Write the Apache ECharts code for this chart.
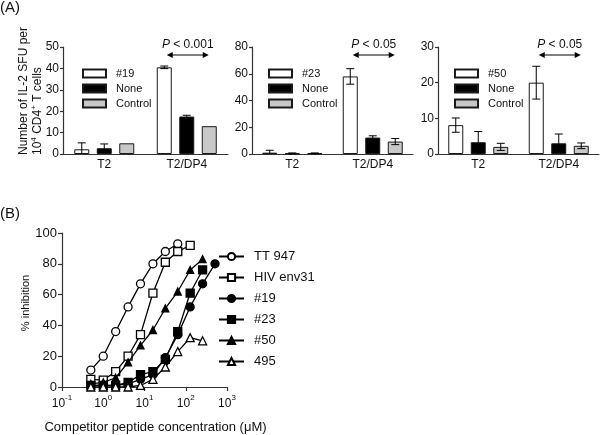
<!DOCTYPE html>
<html><head><meta charset="utf-8">
<script src="https://cdn.jsdelivr.net/npm/echarts@6/dist/echarts.min.js"></script>
<style>html,body{margin:0;padding:0;background:#fff}#c{width:600px;height:435px}</style>
</head><body><div id="c"></div>
<script>
// ---------------- data ----------------
const barCategories = ['T2', 'T2/DP4'];
const groupNames = ['None', 'Control'];

const p1Peptide = '#19';
const p1Means = [[2.2, 40.5], [2.7, 17.5], [5.0, 13.0]];
const p1Errs  = [[3.0, 0.6], [2.0, 0.6], [0, 0]];
const p1YMax = 50, p1YStep = 10, p1P = '< 0.001';

const p2Peptide = '#23';
const p2Means = [[1.0, 58.0], [0.5, 12.3], [0.5, 9.3]];
const p2Errs  = [[1.8, 5.8], [0.3, 1.3], [0.3, 2.3]];
const p2YMax = 80, p2YStep = 20, p2P = '< 0.05';

const p3Peptide = '#50';
const p3Means = [[8.1, 20.0], [3.3, 3.0], [2.0, 2.3]];
const p3Errs  = [[2.0, 4.6], [3.0, 2.6], [1.0, 0.8]];
const p3YMax = 30, p3YStep = 10, p3P = '< 0.05';

// competitor peptide concentration (µM)
const conc = [0.5, 1, 2, 4, 8, 16, 32, 64, 128, 256, 512];
const lineNames = ['TT 947', 'HIV env31', '#19', '#23', '#50', '495'];
const tt947   = [11, 20, 36, 52, 67, 80, 88, 93];
const hivEnv31 = [5, 4.5, 10, 20, 34, 61, 81, 88, 92];
const pep19   = [1, 1, 1, 2, 5, 8, 19, 34, 52, 67, 80];
const pep23   = [1, 1, 1, 3, 8, 10, 18, 36, 61, 76];
const pep50   = [2, 3, 6, 16, 27, 37, 51, 62, 76, 83];
const pep495  = [0, 0, 0, 0, 1, 5, 13, 23, 32, 30];
const lineYTicks = [0, 100, 20];

// ---------------- style ----------------
const FONT = '"Liberation Sans", Arial, Helvetica, sans-serif';
const TXT = '#111';
const AX = '#333';
const BW = 15, BGAP = 0.5, PITCH = BW * (1 + BGAP);
const fills = ['#ffffff', '#000000', '#c8c8c8'];

const chart = echarts.init(document.getElementById('c'), null, {renderer: 'canvas'});

const grids = [
  {left: 63, top: 47, width: 165, height: 107},
  {left: 252, top: 47, width: 161, height: 107},
  {left: 438, top: 47, width: 161, height: 107},
  {left: 62, top: 233, width: 165, height: 154}
];
const xAxes = [], yAxes = [], series = [], legends = [];

const panels = [
  {pep: p1Peptide, means: p1Means, errs: p1Errs, ymax: p1YMax, step: p1YStep, p: p1P, leg: 77},
  {pep: p2Peptide, means: p2Means, errs: p2Errs, ymax: p2YMax, step: p2YStep, p: p2P, leg: 263},
  {pep: p3Peptide, means: p3Means, errs: p3Errs, ymax: p3YMax, step: p3YStep, p: p3P, leg: 449}
];

panels.forEach((pn, i) => {
  xAxes.push({
    gridIndex: i, type: 'category', data: barCategories,
    axisLine: {lineStyle: {color: AX, width: 1.2}}, axisTick: {show: false},
    axisLabel: {color: TXT, fontSize: 12, fontFamily: FONT, margin: 5}
  });
  yAxes.push({
    gridIndex: i, type: 'value', min: 0, max: pn.ymax, interval: pn.step,
    splitLine: {show: false},
    axisLine: {show: true, onZero: false, lineStyle: {color: AX, width: 1.2}},
    axisTick: {show: true, length: 3, lineStyle: {color: AX, width: 1.2}},
    axisLabel: {color: TXT, fontSize: 12, fontFamily: FONT, margin: 4}
  });
  const names = [pn.pep].concat(groupNames);
  const keys = names.map(n => 'P' + i + '|' + n);
  names.forEach((n, s) => {
    series.push({
      type: 'bar', name: keys[s], xAxisIndex: i, yAxisIndex: i,
      data: pn.means[s], barWidth: BW, barGap: (BGAP * 100) + '%',
      itemStyle: {color: fills[s], borderColor: '#1a1a1a', borderWidth: 1},
      animation: false, z: 2
    });
  });
  // error bars
  const errData = [];
  pn.means.forEach((arr, s) => arr.forEach((m, c) => errData.push([c, m, pn.errs[s][c], s])));
  series.push({
    type: 'custom', xAxisIndex: i, yAxisIndex: i, data: errData, z: 5, animation: false, silent: true,
    renderItem: function (params, api) {
      const c = api.value(0), m = api.value(1), e = api.value(2), s = api.value(3);
      if (!e) return;
      const p = api.coord([c, m]);
      const x = p[0] + (s - 1) * PITCH;
      const yHi = api.coord([c, m + e])[1];
      const lo = m - e;
      const yLo = api.coord([c, Math.max(lo, 0)])[1];
      const st = {stroke: '#000', lineWidth: 1};
      const ch = [
        {type: 'line', shape: {x1: x, y1: yLo, x2: x, y2: yHi}, style: st},
        {type: 'line', shape: {x1: x - 4, y1: yHi, x2: x + 4, y2: yHi}, style: st}
      ];
      if (lo > 0) ch.push({type: 'line', shape: {x1: x - 4, y1: yLo, x2: x + 4, y2: yLo}, style: st});
      return {type: 'group', children: ch};
    }
  });
  // significance arrow
  series.push({
    type: 'custom', xAxisIndex: i, yAxisIndex: i, data: [[1, pn.ymax]], z: 6, clip: false,
    animation: false, silent: true,
    renderItem: function (params, api) {
      const c = api.coord([api.value(0), api.value(1)]);
      const cx = c[0] + 1, top = c[1];
      const ya = top + 8, half = 21;
      return {type: 'group', children: [
        {type: 'line', shape: {x1: cx - half + 4, y1: ya, x2: cx + half - 4, y2: ya}, style: {stroke: '#000', lineWidth: 1.2}},
        {type: 'polygon', shape: {points: [[cx - half, ya], [cx - half + 6, ya - 3], [cx - half + 6, ya + 3]]}, style: {fill: '#000'}},
        {type: 'polygon', shape: {points: [[cx + half, ya], [cx + half - 6, ya - 3], [cx + half - 6, ya + 3]]}, style: {fill: '#000'}},
        {type: 'text', style: {text: '{i|P} ' + pn.p, x: cx, y: top - 2, align: 'center', verticalAlign: 'middle',
          fontSize: 12, fontFamily: FONT, fill: TXT,
          rich: {i: {fontStyle: 'italic', fontSize: 12, fontFamily: FONT, fill: TXT}}}}
      ]};
    }
  });
  legends.push({
    orient: 'vertical', left: pn.leg, top: 62, data: keys,
    icon: 'rect', itemWidth: 23, itemHeight: 8, itemGap: 2,
    formatter: n => n.split('|')[1],
    textStyle: {color: TXT, fontSize: 11, fontFamily: FONT, lineHeight: 13, padding: [0, 0, 0, 5]},
    selectedMode: false
  });
});

// line chart axes
xAxes.push({
  gridIndex: 3, type: 'log', logBase: 10, min: 0.1, max: 1000,
  splitLine: {show: false}, minorTick: {show: false},
  axisLine: {onZero: false, lineStyle: {color: AX, width: 1.2}},
  axisTick: {show: true, length: 4, lineStyle: {color: AX, width: 1.2}},
  axisLabel: {
    color: TXT, fontFamily: FONT, margin: 7,
    formatter: v => {
      const e = Math.round(Math.log10(v));
      return '{b|10}{s|' + (e < 0 ? '-' : '') + Math.abs(e) + '}';
    },
    rich: {
      b: {fontSize: 12, fontFamily: FONT, color: TXT, lineHeight: 16, verticalAlign: 'bottom'},
      s: {fontSize: 8, fontFamily: FONT, color: TXT, lineHeight: 10, verticalAlign: 'top'}
    }
  },
  name: 'Competitor peptide concentration (\u03bcM)', nameLocation: 'middle', nameGap: 34,
  nameTextStyle: {color: TXT, fontSize: 13, fontFamily: FONT, padding: [0, 0, 0, 22]}
});
yAxes.push({
  gridIndex: 3, type: 'value', min: lineYTicks[0], max: lineYTicks[1], interval: lineYTicks[2],
  splitLine: {show: false},
  axisLine: {show: true, onZero: false, lineStyle: {color: AX, width: 1.2}},
  axisTick: {show: true, length: 4, lineStyle: {color: AX, width: 1.2}},
  axisLabel: {color: TXT, fontSize: 13, fontFamily: FONT, margin: 5},
  name: '% inhibition', nameLocation: 'middle', nameGap: 29, nameRotate: 90,
  nameTextStyle: {color: TXT, fontSize: 11, fontFamily: FONT, padding: [0, 0, 0, 14]}
});

const lineVals = [tt947, hivEnv31, pep19, pep23, pep50, pep495];
const lineSym = ['circle', 'rect', 'circle', 'rect', 'triangle', 'triangle'];
const lineSize = [8, 8, 8, 8, 7, 8];
const lineFill = ['#fff', '#fff', '#000', '#000', '#000', '#fff'];
lineNames.forEach((n, k) => {
  series.push({
    type: 'line', name: n, xAxisIndex: 3, yAxisIndex: 3,
    data: lineVals[k].map((v, j) => [conc[j], v]),
    symbol: lineSym[k], symbolSize: lineSize[k],
    showAllSymbol: true,
    lineStyle: {color: '#000', width: 1.3},
    itemStyle: {color: lineFill[k], borderColor: '#000', borderWidth: 1.3},
    animation: false, z: 3 + k
  });
});
legends.push({
  orient: 'vertical', left: 213, top: 245, data: lineNames,
  itemWidth: 25, itemHeight: 9, itemGap: 8,
  textStyle: {color: TXT, fontSize: 13, fontFamily: FONT, padding: [0, 0, 0, 5]},
  selectedMode: false
});

chart.setOption({
  backgroundColor: '#fff',
  animation: false,
  textStyle: {fontFamily: FONT},
  grid: grids,
  xAxis: xAxes,
  yAxis: yAxes,
  legend: legends,
  series: series,
  graphic: [
    {type: 'text', left: 0, top: 0, style: {text: '(A)', fontSize: 15, fontFamily: FONT, fill: TXT}},
    {type: 'text', left: 0, top: 206, style: {text: '(B)', fontSize: 15, fontFamily: FONT, fill: TXT}},
    {type: 'text', x: 30, y: 155, rotation: Math.PI / 2,
      style: {text: '{t|Number of IL-2 SFU per}\n{t|10}{s|4}{t| CD4}{s|+}{t| T cells}',
        align: 'left', verticalAlign: 'middle', fill: TXT, fontFamily: FONT, fontSize: 12,
        rich: {
          t: {fontSize: 12, fontFamily: FONT, fill: TXT, lineHeight: 14, verticalAlign: 'bottom'},
          s: {fontSize: 8, fontFamily: FONT, fill: TXT, lineHeight: 9, verticalAlign: 'top'}
        }}}
  ]
});
</script></body></html>
